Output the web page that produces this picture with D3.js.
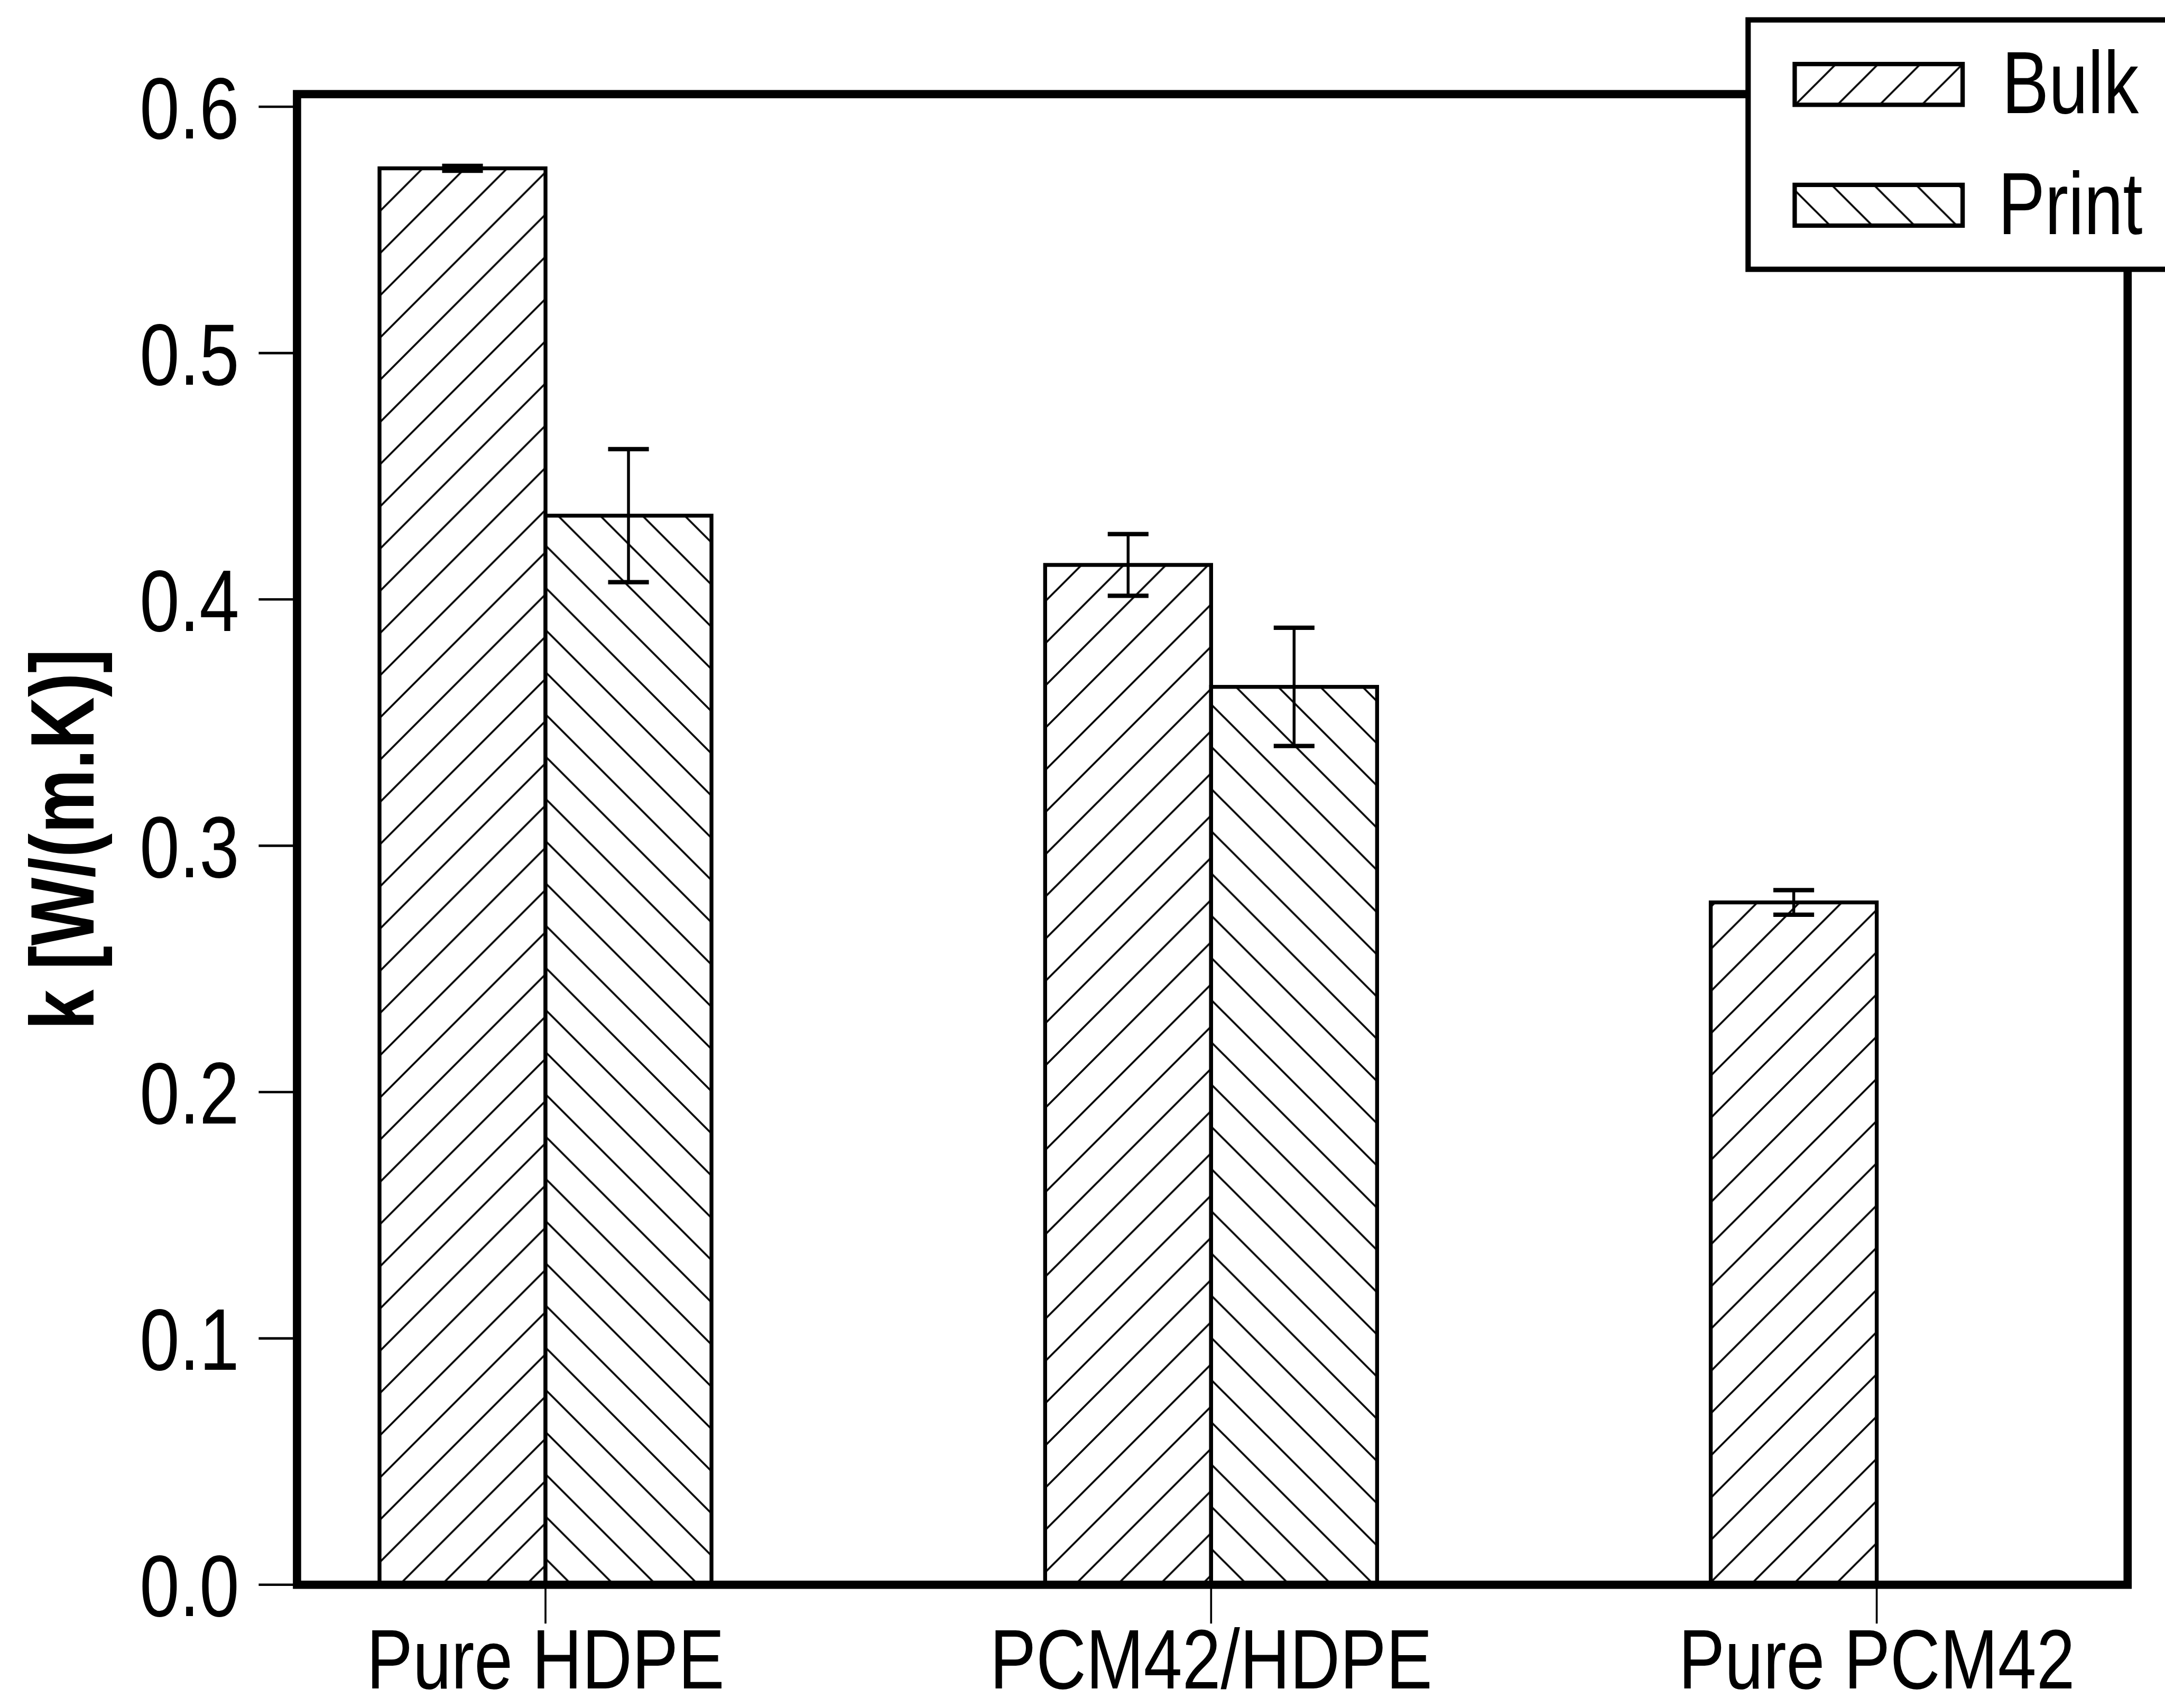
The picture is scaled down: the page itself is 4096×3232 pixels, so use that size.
<!DOCTYPE html>
<html>
<head>
<meta charset="utf-8">
<script src="https://cdn.jsdelivr.net/npm/d3@7"></script>
<style>
  html, body { margin: 0; padding: 0; background: #ffffff; }
  svg { display: block; }
  text { font-family: "Liberation Sans", Arial, sans-serif; fill: #000; }
</style>
</head>
<body>
<script>
// ---------------- data ----------------
const categories = ["Pure HDPE", "PCM42/HDPE", "Pure PCM42"];
const seriesNames = ["Bulk", "Print"];
const bulkValues = [0.575, 0.414, 0.277];
const bulkErrors = [0.001, 0.0125, 0.005];
const printValues = [0.434, 0.3645, null];
const printErrors = [0.027, 0.024, null];
const yTicks = [0.0, 0.1, 0.2, 0.3, 0.4, 0.5, 0.6];
const yTitle = "k [W/(m.K)]";

// ---------------- layout (reference pixel space) ----------------
const REF_W = 4461, REF_H = 3520;
const W = 4096, H = 3232;
const s = W / REF_W;

const svg = d3.select("body").append("svg")
  .attr("width", W).attr("height", H)
  .attr("viewBox", `0 0 ${W} ${H}`);
svg.append("rect").attr("width", W).attr("height", H).attr("fill", "#fff");

const root = svg.append("g").attr("transform", `scale(${s})`);

const frame = { left: 612, right: 4384, top: 194, bottom: 3266 };
const y = d3.scaleLinear().domain([0, 0.6]).range([3266, 220]);
const x = d3.scalePoint().domain(categories).range([1124, 3867]);
const barW = 342;
const xs = d3.scaleBand().domain(seriesNames).range([-barW, barW]).padding(0);

const condense = 0.82;

// ---------------- patterns ----------------
const defs = root.append("defs");
const P = 87;
function hatch(id, forward) {
  const p = defs.append("pattern")
    .attr("id", id).attr("patternUnits", "userSpaceOnUse")
    .attr("width", P).attr("height", P);
  p.append("rect").attr("width", P).attr("height", P).attr("fill", "#fff");
  const d = forward
    ? `M0,${P} L${P},0 M${-P/2},${P/2} L${P/2},${-P/2} M${P/2},${P*1.5} L${P*1.5},${P/2}`
    : `M0,0 L${P},${P} M${-P/2},${P/2} L${P/2},${P*1.5} M${P/2},${-P/2} L${P*1.5},${P/2}`;
  p.append("path").attr("d", d).attr("stroke", "#000").attr("stroke-width", 4).attr("fill", "none");
}
hatch("hatchBulk", true);
hatch("hatchPrint", false);
const fills = { Bulk: "url(#hatchBulk)", Print: "url(#hatchPrint)" };

// ---------------- bars ----------------
const rows = [];
categories.forEach((c, i) => {
  rows.push({ cat: c, series: "Bulk", v: bulkValues[i], e: bulkErrors[i] });
  if (printValues[i] != null) rows.push({ cat: c, series: "Print", v: printValues[i], e: printErrors[i] });
});

root.append("g").selectAll("rect").data(rows).join("rect")
  .attr("x", d => x(d.cat) + xs(d.series))
  .attr("y", d => y(d.v))
  .attr("width", xs.bandwidth())
  .attr("height", d => y(0) - y(d.v))
  .attr("fill", d => fills[d.series])
  .attr("stroke", "#000").attr("stroke-width", 8);

// error bars
const capW = 84;
const eb = root.append("g").attr("stroke", "#000").attr("stroke-width", 6).attr("fill", "none");
rows.forEach(d => {
  const cx = x(d.cat) + xs(d.series) + xs.bandwidth() / 2;
  const y1 = y(d.v + d.e), y2 = y(d.v - d.e);
  eb.append("line").attr("x1", cx).attr("x2", cx).attr("y1", y1).attr("y2", y2);
  eb.append("line").attr("x1", cx - capW/2).attr("x2", cx + capW/2).attr("y1", y1).attr("y2", y1).attr("stroke-width", 9);
  eb.append("line").attr("x1", cx - capW/2).attr("x2", cx + capW/2).attr("y1", y2).attr("y2", y2).attr("stroke-width", 9);
});

// ---------------- frame ----------------
root.append("rect")
  .attr("x", frame.left).attr("y", frame.top)
  .attr("width", frame.right - frame.left).attr("height", frame.bottom - frame.top)
  .attr("fill", "none").attr("stroke", "#000").attr("stroke-width", 17);

// ---------------- y axis ----------------
const yAxis = root.append("g");
yAxis.selectAll("line").data(yTicks).join("line")
  .attr("x1", 533).attr("x2", frame.left)
  .attr("y1", d => y(d)).attr("y2", d => y(d))
  .attr("stroke", "#000").attr("stroke-width", 5);
yAxis.selectAll("g.lbl").data(yTicks).join("g").attr("class", "lbl")
  .attr("transform", d => `translate(493,${y(d)}) scale(${condense},1)`)
  .append("text")
  .attr("text-anchor", "end").attr("dy", "0.36em")
  .attr("font-size", 180)
  .text(d => d3.format(".1f")(d));

// y title
root.append("g")
  .attr("transform", `translate(193,${(frame.top + frame.bottom) / 2}) rotate(-90) scale(0.8,1)`)
  .append("text")
  .attr("text-anchor", "middle")
  .attr("font-size", 186).attr("font-weight", "bold")
  .text(yTitle);

// ---------------- x axis ----------------
const xAxis = root.append("g");
xAxis.selectAll("line").data(categories).join("line")
  .attr("x1", d => x(d)).attr("x2", d => x(d))
  .attr("y1", frame.bottom).attr("y2", 3346)
  .attr("stroke", "#000").attr("stroke-width", 4);
xAxis.selectAll("g.lbl").data(categories).join("g").attr("class", "lbl")
  .attr("transform", d => `translate(${x(d)},3480) scale(${condense},1)`)
  .append("text")
  .attr("text-anchor", "middle")
  .attr("font-size", 174)
  .text(d => d);

// ---------------- legend ----------------
const leg = root.append("g");
leg.append("rect")
  .attr("x", 3602).attr("y", 41).attr("width", 1000).attr("height", 514)
  .attr("fill", "#fff").attr("stroke", "#000").attr("stroke-width", 11);
const legY = [132, 381];
seriesNames.forEach((name, i) => {
  leg.append("rect")
    .attr("x", 3698).attr("y", legY[i]).attr("width", 346).attr("height", 84)
    .attr("fill", fills[name]).attr("stroke", "#000").attr("stroke-width", 9);
  leg.append("g")
    .attr("transform", `translate(${i === 0 ? 4125 : 4117},${legY[i] + 101}) scale(0.8,1)`)
    .append("text").attr("font-size", 181).text(name);
});
</script>
</body>
</html>
